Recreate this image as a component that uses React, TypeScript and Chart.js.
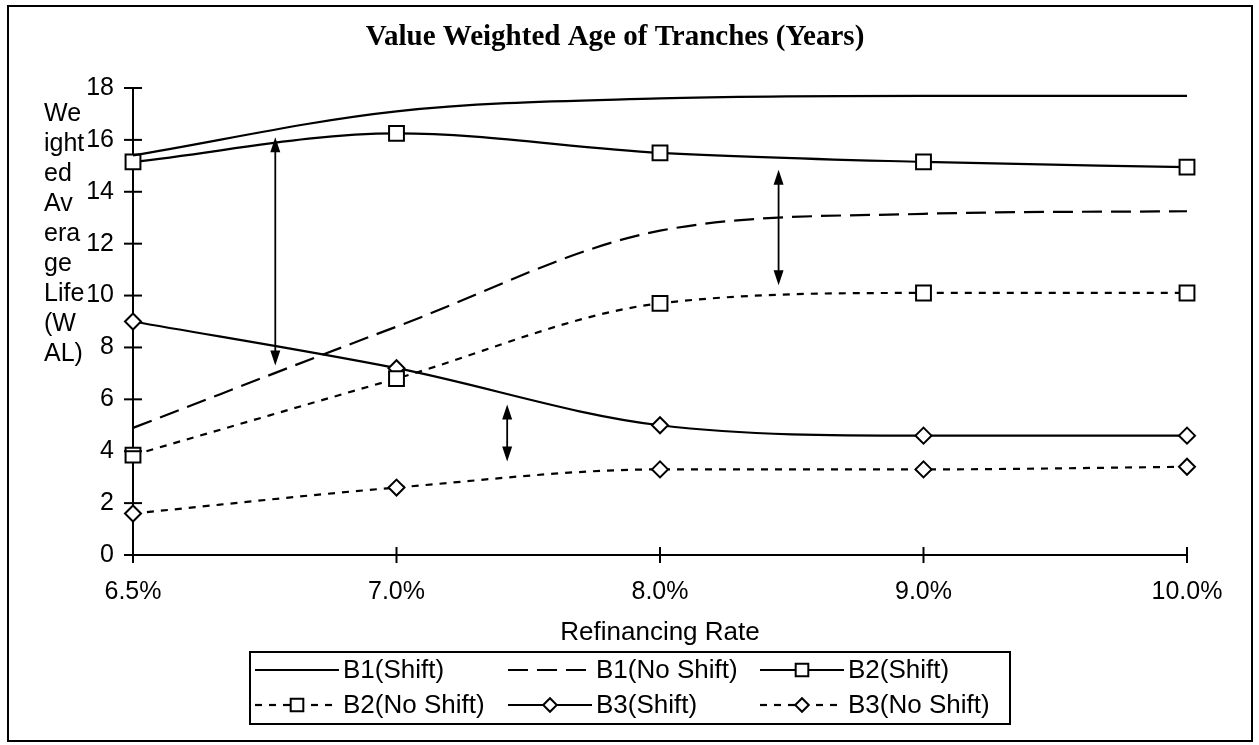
import React, { useEffect, useRef } from "react";
import { Chart, registerables } from "chart.js";

Chart.register(...registerables);

// ---- data ----
const xLabels = ["6.5%", "7.0%", "8.0%", "9.0%", "10.0%"];
const b1Shift = [15.4, 17.1, 17.6, 17.7, 17.7];
const b1NoShift = [4.9, 8.8, 12.5, 13.15, 13.25];
const b2Shift = [15.15, 16.25, 15.5, 15.15, 14.95];
const b2NoShift = [3.85, 6.8, 9.7, 10.1, 10.1];
const b3Shift = [9.0, 7.2, 5.0, 4.6, 4.6];
const b3NoShift = [1.6, 2.6, 3.3, 3.3, 3.4];
const yMin = 0;
const yMax = 18;
const yStep = 2;

const titleText = "Value Weighted Age of Tranches (Years)";
const yTitleLines = ["We", "ight", "ed", "Av", "era", "ge", "Life", "(W", "AL)"];
const xTitleText = "Refinancing Rate";

// double-headed arrow annotations (x in category index units, y in years)
const arrowX = [0.54, 2.45, 1.42];
const arrowTop = [16.1, 14.85, 5.8];
const arrowBottom = [7.3, 10.4, 3.6];

const SANS = "'Liberation Sans', Arial, sans-serif";
const SERIF = "'Liberation Serif', 'Times New Roman', serif";

function drawMarker(ctx: CanvasRenderingContext2D, style: string, x: number, y: number, r: number) {
  ctx.save();
  ctx.setLineDash([]);
  ctx.fillStyle = "#fff";
  ctx.strokeStyle = "#000";
  ctx.lineWidth = 2;
  ctx.beginPath();
  if (style === "rect") {
    const h = r * Math.SQRT1_2;
    ctx.rect(x - h, y - h, 2 * h, 2 * h);
  } else {
    ctx.moveTo(x - r, y);
    ctx.lineTo(x, y - r);
    ctx.lineTo(x + r, y);
    ctx.lineTo(x, y + r);
    ctx.closePath();
  }
  ctx.fill();
  ctx.stroke();
  ctx.restore();
}

const decor = {
  id: "decor",
  afterDraw(chart: any) {
    const ctx: CanvasRenderingContext2D = chart.ctx;
    const xs = chart.scales.x;
    const ys = chart.scales.y;
    const area = chart.chartArea;
    ctx.save();
    ctx.strokeStyle = "#000";
    ctx.fillStyle = "#000";

    // outer frame
    ctx.lineWidth = 2;
    ctx.strokeRect(8, 6, 1244, 735);

    // title
    ctx.font = `bold 29px ${SERIF}`;
    ctx.textAlign = "center";
    ctx.textBaseline = "middle";
    ctx.fillText(titleText, 615, 38);

    // y title (wrapped)
    ctx.font = `25px ${SANS}`;
    ctx.textAlign = "left";
    yTitleLines.forEach((t, i) => ctx.fillText(t, 44, 114 + i * 30));

    // x title
    ctx.font = `26px ${SANS}`;
    ctx.textAlign = "center";
    ctx.fillText(xTitleText, (area.left + area.right) / 2, 633);

    // crossing tick marks
    ctx.lineWidth = 2;
    ys.ticks.forEach((t: any) => {
      const y = ys.getPixelForValue(t.value);
      ctx.beginPath();
      ctx.moveTo(area.left - 9, y);
      ctx.lineTo(area.left + 9, y);
      ctx.stroke();
    });
    xLabels.forEach((_, i) => {
      const x = xs.getPixelForValue(i);
      ctx.beginPath();
      ctx.moveTo(x, area.bottom - 8);
      ctx.lineTo(x, area.bottom + 8);
      ctx.stroke();
    });

    // arrows
    arrowX.forEach((ax, i) => {
      const x = xs.getPixelForValue(ax);
      const y1 = ys.getPixelForValue(arrowTop[i]);
      const y2 = ys.getPixelForValue(arrowBottom[i]);
      ctx.lineWidth = 1.8;
      ctx.beginPath();
      ctx.moveTo(x, y1 + 6);
      ctx.lineTo(x, y2 - 6);
      ctx.stroke();
      ctx.beginPath();
      ctx.moveTo(x, y1);
      ctx.lineTo(x - 5, y1 + 15);
      ctx.lineTo(x + 5, y1 + 15);
      ctx.closePath();
      ctx.fill();
      ctx.beginPath();
      ctx.moveTo(x, y2);
      ctx.lineTo(x - 5, y2 - 15);
      ctx.lineTo(x + 5, y2 - 15);
      ctx.closePath();
      ctx.fill();
    });

    // legend
    ctx.lineWidth = 2;
    ctx.strokeRect(250, 652, 760, 72);
    const colX = [255, 508, 760];
    const rowY = [670, 705];
    const sampleW = 84;
    ctx.font = `26px ${SANS}`;
    ctx.textAlign = "left";
    ctx.textBaseline = "middle";
    chart.data.datasets.forEach((ds: any, i: number) => {
      const cx = colX[i % 3];
      const cy = rowY[Math.floor(i / 3)];
      ctx.save();
      ctx.lineWidth = ds.borderWidth;
      ctx.setLineDash(ds.borderDash || []);
      ctx.beginPath();
      ctx.moveTo(cx, cy);
      ctx.lineTo(cx + sampleW, cy);
      ctx.stroke();
      ctx.restore();
      if (ds.pointRadius > 0) drawMarker(ctx, ds.pointStyle, cx + sampleW / 2, cy, ds.pointRadius * 0.85);
      ctx.fillText(ds.label, cx + sampleW + 4, cy + 1);
    });

    ctx.restore();
  },
};

export default function App() {
  const ref = useRef<HTMLCanvasElement | null>(null);
  useEffect(() => {
    if (!ref.current) return;
    const common = {
      borderColor: "#000",
      backgroundColor: "#fff",
      borderWidth: 2.2,
      fill: false,
      cubicInterpolationMode: "monotone" as const,
      pointBackgroundColor: "#fff",
      pointBorderColor: "#000",
      pointBorderWidth: 2,
    };
    const chart = new Chart(ref.current, {
      type: "line",
      data: {
        labels: xLabels,
        datasets: [
          { ...common, label: "B1(Shift)", data: b1Shift, pointRadius: 0, pointStyle: "circle" },
          { ...common, label: "B1(No Shift)", data: b1NoShift, borderDash: [20, 9], pointRadius: 0, pointStyle: "circle" },
          { ...common, label: "B2(Shift)", data: b2Shift, pointStyle: "rect", pointRadius: 10.5 },
          { ...common, label: "B2(No Shift)", data: b2NoShift, borderDash: [7, 7], pointStyle: "rect", pointRadius: 10.5 },
          { ...common, label: "B3(Shift)", data: b3Shift, pointStyle: "rectRot", pointRadius: 8 },
          { ...common, label: "B3(No Shift)", data: b3NoShift, borderDash: [7, 7], pointStyle: "rectRot", pointRadius: 8 },
        ] as any,
      },
      options: {
        responsive: false,
        animation: false,
        layout: { padding: { top: 88, right: 72, bottom: 90, left: 0 } },
        plugins: {
          legend: { display: false },
          title: { display: false },
          tooltip: { enabled: false },
        },
        scales: {
          x: {
            type: "category",
            offset: false,
            grid: { display: false, drawTicks: false },
            border: { display: true, color: "#000", width: 2 },
            ticks: {
              color: "#000",
              font: { family: SANS, size: 25 },
              padding: 22,
              maxRotation: 0,
              autoSkip: false,
            },
            afterFit: (s: any) => {
              s.height = 100;
            },
          },
          y: {
            min: yMin,
            max: yMax,
            grid: { display: false, drawTicks: false },
            border: { display: true, color: "#000", width: 2 },
            ticks: {
              stepSize: yStep,
              color: "#000",
              font: { family: SANS, size: 25 },
              padding: 19,
            },
            afterFit: (s: any) => {
              s.width = 133;
            },
          },
        },
      } as any,
      plugins: [decor],
    });
    return () => chart.destroy();
  }, []);

  return (
    <div style={{ position: "fixed", left: 0, top: 0, width: 1259, height: 745, background: "#fff" }}>
      <canvas ref={ref} width={1259} height={745} style={{ display: "block", width: 1259, height: 745 }} />
    </div>
  );
}
